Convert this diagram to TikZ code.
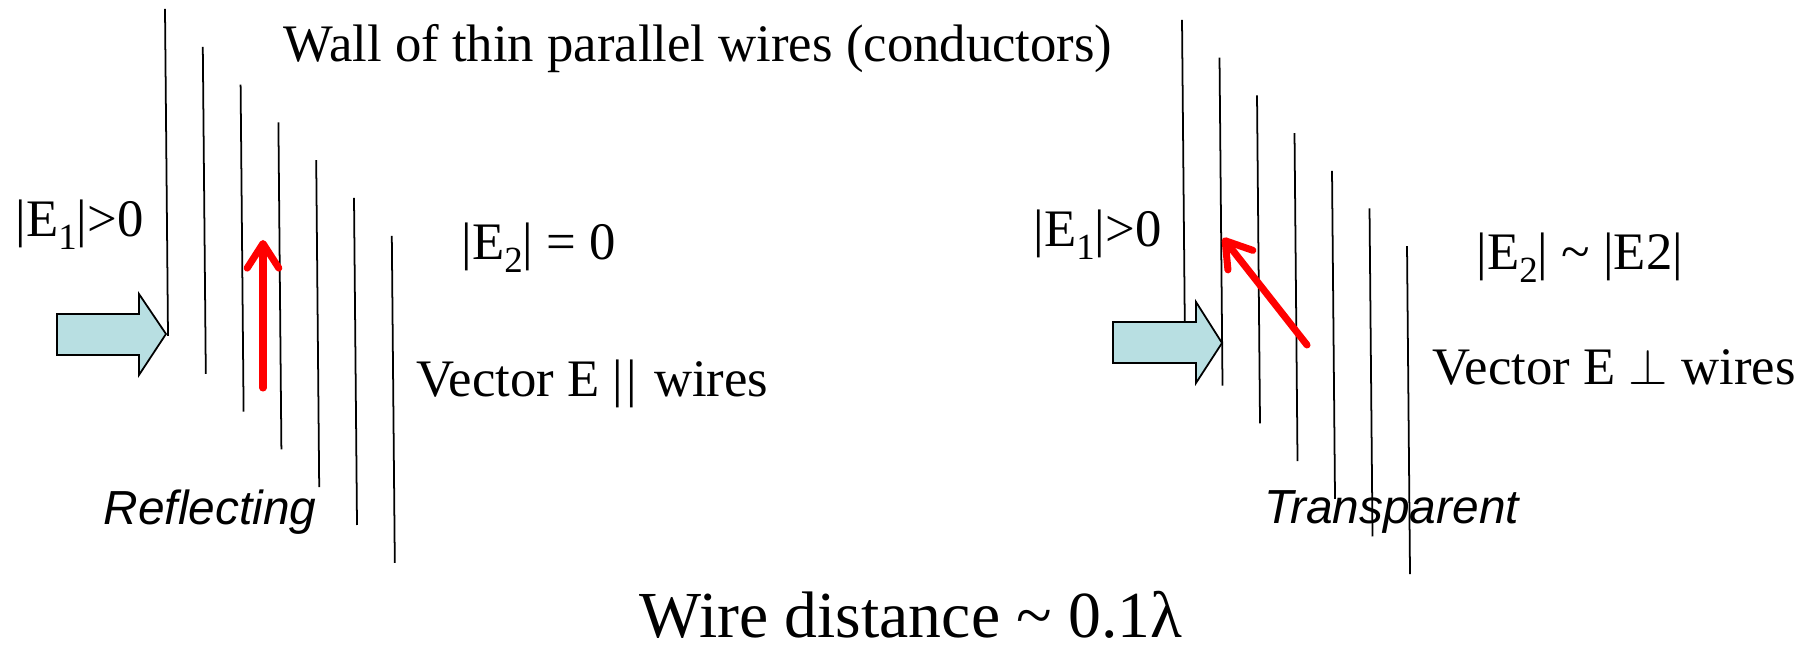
\documentclass[tikz,border=0pt]{standalone}
\usepackage{fontspec}
\setmainfont{Liberation Serif}
\setsansfont{Liberation Sans}
\usetikzlibrary{arrows.meta}
\definecolor{beam}{HTML}{B8DFE2}
\definecolor{field}{HTML}{FF0000}
\newcommand{\absE}[1]{|E\raisebox{-3.5pt}{\fontsize{10.5}{12}\selectfont#1}|}

\begin{document}
\begin{tikzpicture}[
  wire/.style={line width=0.5pt},
  beamarrow/.style={draw, line width=0.5pt, fill=beam},
  evec/.style={line width=2pt, draw=field, line cap=round, -{Straight Barb[length=7pt,width=9pt,round]}},
  lbl/.style={anchor=base west, inner sep=0pt, font=\fontsize{15}{18}\selectfont},
  tag/.style={anchor=base west, inner sep=0pt, font=\fontsize{13.6}{16}\selectfont\sffamily\itshape}
]
  \useasboundingbox (0,0) rectangle (18.14,-6.48);
  % left wall
  \foreach \i in {0,...,6}
    \draw[wire] ({1.65+0.378*\i},{-0.09-0.378*\i}) -- ++(0.03,-3.27);
  % right wall
  \foreach \i in {0,...,6}
    \draw[wire] ({11.82+0.375*\i},{-0.20-0.377*\i}) -- ++(0.03,-3.28);
  % incoming waves
  \draw[beamarrow] (0.57,-3.14) -- (1.39,-3.14) -- (1.39,-2.94) -- (1.66,-3.34) -- (1.39,-3.75) -- (1.39,-3.55) -- (0.57,-3.55) -- cycle;
  \draw[beamarrow] (11.13,-3.22) -- (11.96,-3.22) -- (11.96,-3.02) -- (12.22,-3.43) -- (11.96,-3.83) -- (11.96,-3.63) -- (11.13,-3.63) -- cycle;
  % field vectors
  \coordinate (eL0) at (2.63,-3.88);
  \coordinate (eL1) at (2.63,-2.40);
  \coordinate (eR0) at (13.07,-3.45);
  \coordinate (eR1) at (12.23,-2.38);
  \draw[evec] (eL0) -- (eL1);
  \draw[evec] (eR0) -- (eR1);
  % labels
  \node[lbl] (wall) at (2.83,-0.62) {Wall of thin parallel wires (conductors)};
  \node[lbl] (e1L) at (0.15,-2.37) {\absE{1}>0};
  \node[lbl] (e2L) at (4.61,-2.60) {\absE{2} = 0};
  \node[lbl] (vecL) at (4.16,-3.97) {Vector E |\kern1pt| \kern1pt wires};
  \node[tag] (refl) at (1.03,-5.25) {Reflecting};
  \node[lbl] (e1R) at (10.33,-2.47) {\absE{1}>0};
  \node[lbl] (e2R) at (14.76,-2.70) {\absE{2} \textasciitilde{} |E2|};
  \node[lbl] (vecR) at (14.32,-3.85) {Vector E $\perp$ wires};
  \node[tag] (transp) at (12.64,-5.24) {Transparent};
  \node[lbl, font=\fontsize{18.7}{22}\selectfont] (dist) at (6.39,-6.38) {Wire distance \textasciitilde{} 0.1λ};
\end{tikzpicture}
\end{document}
